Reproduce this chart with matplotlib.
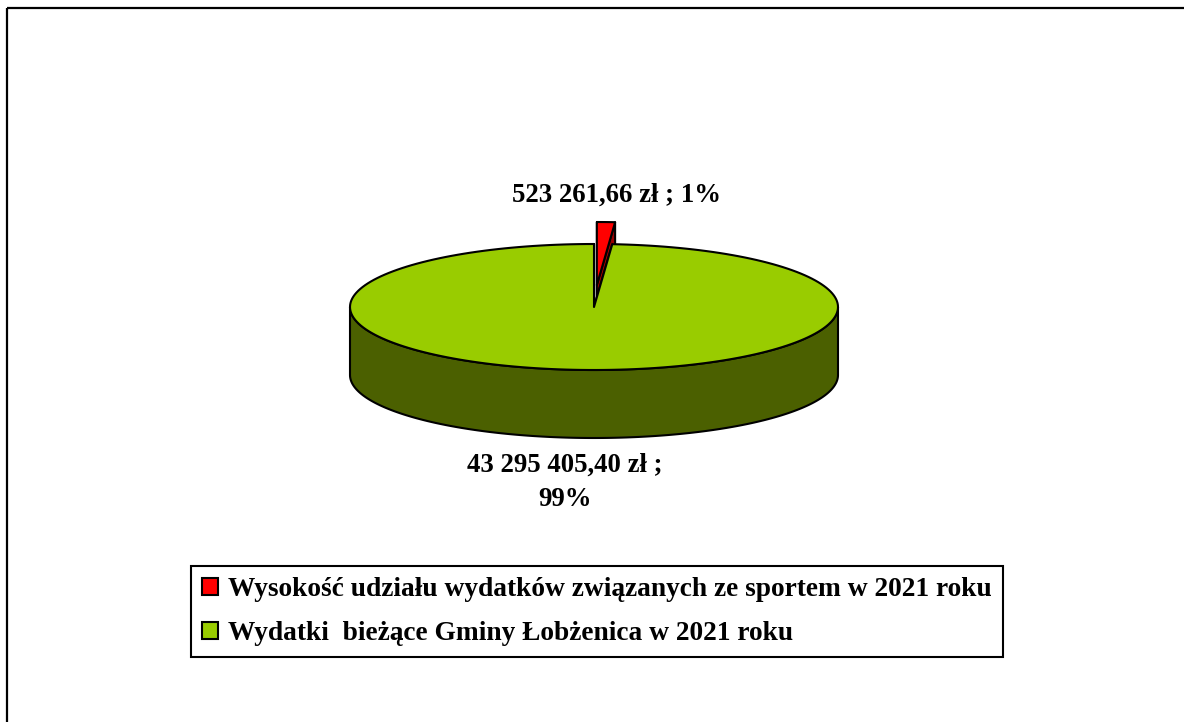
import numpy as np
import matplotlib.pyplot as plt
from matplotlib.patches import Polygon, Rectangle, Patch

# data
labels = ['Wysokość udziału wydatków związanych ze sportem w 2021 roku',
          'Wydatki  bieżące Gminy Łobżenica w 2021 roku']
values = [523261.66, 43295405.40]
top_colors = ['#FF0000', '#99CC00']
side_colors = ['#990000', '#4B6000']
explode = [22, 0]

W, H = 1184, 722
CX, CY = 594, 307      # centre of the top ellipse (pixels)
RX, RY = 244, 63
DEPTH = 68

FONT = 'Liberation Serif'


def fmt_zl(v):
    return f'{v:,.2f}'.replace(',', ' ').replace('.', ',')


def pt(theta, cx, cy, dy=0):
    # theta in degrees, clockwise from 12 o'clock
    t = np.radians(theta)
    return cx + RX * np.sin(t), cy - RY * np.cos(t) + dy


def arc(a0, a1, cx, cy, dy=0, n=200):
    th = np.linspace(a0, a1, n)
    x, y = pt(th, cx, cy, dy)
    return np.column_stack([x, y])


def draw_slice(ax, a0, a1, off, top_c, side_c):
    mid = np.radians((a0 + a1) / 2)
    cx = CX + off * np.sin(mid) + (2 if off else 0)
    cy = CY - off * np.cos(mid)
    kw = dict(edgecolor='black', linewidth=1.5, joinstyle='round')
    # cut faces
    for a in (a0, a1):
        px, py = pt(a, cx, cy)
        ax.add_patch(Polygon([(cx, cy), (px, py), (px, py + DEPTH), (cx, cy + DEPTH)],
                             facecolor=side_c, **kw))
    # outer wall, only the front half is visible
    lo, hi = max(a0, 90), min(a1, 270)
    if hi > lo:
        wall = np.vstack([arc(lo, hi, cx, cy), arc(hi, lo, cx, cy, DEPTH)])
        ax.add_patch(Polygon(wall, facecolor=side_c, **kw))
    # top face
    top = np.vstack([[(cx, cy)], arc(a0, a1, cx, cy)])
    ax.add_patch(Polygon(top, facecolor=top_c, **kw))
    return cx, cy


fig = plt.figure(figsize=(W / 100, H / 100), dpi=100)
ax = fig.add_axes([0, 0, 1, 1])
ax.set_xlim(0, W)
ax.set_ylim(H, 0)
ax.axis('off')

# outer chart border (right and bottom lie outside the picture)
ax.add_patch(Rectangle((7, 8), W + 20, H + 20, fill=False, edgecolor='black', linewidth=1.6))

total = sum(values)
angles = np.concatenate([[0], np.cumsum(values) / total * 360])
for i in range(len(values)):
    draw_slice(ax, angles[i], angles[i + 1], explode[i], top_colors[i], side_colors[i])

pcts = [round(v / total * 100) for v in values]
lab_kw = dict(fontfamily=FONT, fontweight='bold', fontsize=19.3, ha='center', va='center')
ax.text(617, 195, f'{fmt_zl(values[0])} zł ; {pcts[0]}%', **lab_kw)
ax.text(565, 482, f'{fmt_zl(values[1])} zł ;\n{pcts[1]}%', multialignment='center',
        linespacing=1.5, **lab_kw)

handles = [Patch(facecolor=c, edgecolor='black', linewidth=1.5) for c in top_colors]
leg = ax.legend(handles, labels, loc='upper left',
                bbox_to_anchor=(191 / W, 1 - 566 / H), bbox_transform=fig.transFigure,
                prop={'family': FONT, 'weight': 'bold', 'size': 19.7},
                frameon=True, fancybox=False, framealpha=1, borderaxespad=0,
                borderpad=0.4, handlelength=0.59, handleheight=0.59,
                handletextpad=0.37, labelspacing=0.69)
leg.get_frame().set_edgecolor('black')
leg.get_frame().set_linewidth(1.5)

fig.savefig('out.png', dpi=100, facecolor='white')
